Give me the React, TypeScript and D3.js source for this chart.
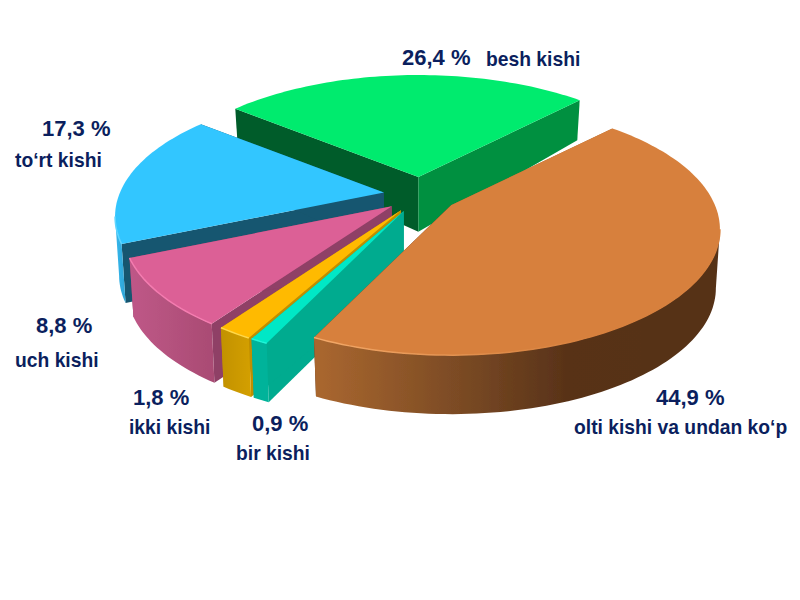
import React from "react";
import * as d3 from "d3";

// slices in drawing order of the pie, clockwise from the start angle
const categories = ["olti kishi va undan ko‘p", "bir kishi", "ikki kishi", "uch kishi", "to‘rt kishi", "besh kishi"];
const values = [44.9, 0.9, 1.8, 8.8, 17.3, 26.4];
const valueLabels = ["44,9 %", "0,9 %", "1,8 %", "8,8 %", "17,3 %", "26,4 %"];

const topColors = ["#d7803c", "#00e8c6", "#ffba00", "#dc6096", "#33c6ff", "#00eb6e"];
const startWallColors = ["#a5642e", "#00ab8f", "#c08e00", "#8f3f66", "#17566f", "#005c2a"];
const endWallColors = ["#55301a", "#00ab8f", "#c08e00", "#8f3f66", "#17566f", "#00903f"];
const rimColors = ["url(#rimOrange)", "#00b39a", "url(#rimYellow)", "url(#rimPink)", "url(#rimBlue)", "#00903f"];
const bevelColors = ["url(#bevelOrange)", "#20f5d8", "#ffd84a", "#f47cb0", "#5fd6ff", "#00eb6e"];

// back to front: green, blue, pink, yellow, teal, orange
const paintOrder = [5, 4, 3, 2, 1, 0];

const labelX = [574, 236, 129, 15, 15, 486];
const labelY = [434, 460, 434, 367, 167, 66];
const valueX = [656, 252, 133, 36, 42, 402];
const valueY = [405, 431, 405, 333, 136, 65];

const cx = 420.6;
const cy = 195;
const explodeX = 37;
const explodeY = 18;
const radiusX = 264;
const radiusY = 121.4;
const perspective = 0.19;
const startAngle = (44 * Math.PI) / 180;

const pie = d3
  .pie<number>()
  .sort(null)
  .startAngle(startAngle)
  .endAngle(startAngle + 2 * Math.PI);

const line = d3.line();

type Pt = [number, number];

const project = (ax: number, ay: number, theta: number): Pt => {
  const u = Math.sin(theta);
  const v = -Math.cos(theta);
  const w = 1 - perspective * v;
  return [ax + (radiusX * u) / w, ay + (radiusY * v) / w];
};

const depthAt = (y: number) => Math.min(59, 40 + (y - 100) * 0.19);

const arcPoints = (ax: number, ay: number, a0: number, a1: number): Pt[] => {
  const n = Math.max(2, Math.ceil((a1 - a0) * 40));
  const t = d3.scaleLinear().domain([0, n]).range([a0, a1]);
  return d3.range(n + 1).map((i) => project(ax, ay, t(i)));
};

// angle where the projected rim turns from the back to the front
const silhouette = Math.acos(-perspective);

const App = () => {
  const arcs = pie(values);

  const slices = paintOrder.map((i) => {
    const arc = arcs[i];
    const mid = (arc.startAngle + arc.endAngle) / 2;
    const ax = cx + explodeX * Math.sin(mid);
    const ay = cy - explodeY * Math.cos(mid);
    const apex: Pt = [ax, ay];
    const drop = ([x, y]: Pt): Pt => [ax + (x - ax) * 0.985, y + depthAt(y)];
    const outer = arcPoints(ax, ay, arc.startAngle, arc.endAngle);
    const top = line([apex, ...outer])! + "Z";
    const first = outer[0];
    const last = outer[outer.length - 1];
    const startWall = line([apex, first, drop(first), drop(apex)])! + "Z";
    const endWall = line([apex, last, drop(last), drop(apex)])! + "Z";

    // only the part of the rim that faces the viewer
    const a0 = Math.max(arc.startAngle, silhouette);
    const a1 = Math.min(arc.endAngle, 2 * Math.PI - silhouette);
    let rim: string | null = null;
    let bevel: string | null = null;
    if (a1 > a0) {
      const front = arcPoints(ax, ay, a0, a1);
      rim = line([...front, ...front.slice().reverse().map(drop)])! + "Z";
      bevel = line(front);
    }
    return { i, top, startWall, endWall, rim, bevel };
  });

  return (
    <svg
      width={800}
      height={600}
      style={{ position: "absolute", left: 0, top: 0, background: "#fff" }}
    >
      <defs>
        <linearGradient id="rimOrange" gradientUnits="userSpaceOnUse" x1={322} x2={720} y1={0} y2={0}>
          <stop offset="0" stopColor="#a8662f" />
          <stop offset="0.35" stopColor="#7a4a24" />
          <stop offset="0.62" stopColor="#583218" />
          <stop offset="1" stopColor="#563117" />
        </linearGradient>
        <linearGradient id="rimPink" gradientUnits="userSpaceOnUse" x1={128} x2={215} y1={0} y2={0}>
          <stop offset="0" stopColor="#bf5888" />
          <stop offset="1" stopColor="#a94b73" />
        </linearGradient>
        <linearGradient id="rimBlue" gradientUnits="userSpaceOnUse" x1={115} x2={130} y1={0} y2={0}>
          <stop offset="0" stopColor="#36b8ee" />
          <stop offset="1" stopColor="#2a9ccc" />
        </linearGradient>
        <linearGradient id="rimYellow" gradientUnits="userSpaceOnUse" x1={218} x2={252} y1={0} y2={0}>
          <stop offset="0" stopColor="#c09000" />
          <stop offset="1" stopColor="#d4a000" />
        </linearGradient>
        <linearGradient id="bevelOrange" gradientUnits="userSpaceOnUse" x1={322} x2={720} y1={0} y2={0}>
          <stop offset="0" stopColor="#f3a868" />
          <stop offset="0.45" stopColor="#dd8a48" />
          <stop offset="0.7" stopColor="#d7803c" />
          <stop offset="1" stopColor="#d7803c" />
        </linearGradient>
        <filter id="soft" x="-5%" y="-5%" width="110%" height="110%">
          <feGaussianBlur stdDeviation="0.5" />
        </filter>
      </defs>

      <g filter="url(#soft)">
        {slices.map((s) => (
          <g key={s.i}>
            <path d={s.startWall} fill={startWallColors[s.i]} />
            <path d={s.endWall} fill={endWallColors[s.i]} />
            {s.rim && <path d={s.rim} fill={rimColors[s.i]} />}
            <path d={s.top} fill={topColors[s.i]} />
            {s.bevel && (
              <path d={s.bevel} fill="none" stroke={bevelColors[s.i]} strokeWidth={1.5} />
            )}
          </g>
        ))}
      </g>

      <g fontFamily="'Liberation Sans', Arial, sans-serif" fontWeight="bold" fill="#0b1f5e">
        {categories.map((c, i) => (
          <g key={c}>
            <text x={valueX[i]} y={valueY[i]} fontSize={22}>
              {valueLabels[i]}
            </text>
            <text x={labelX[i]} y={labelY[i]} fontSize={19.3}>
              {c}
            </text>
          </g>
        ))}
      </g>
    </svg>
  );
};

export default App;
